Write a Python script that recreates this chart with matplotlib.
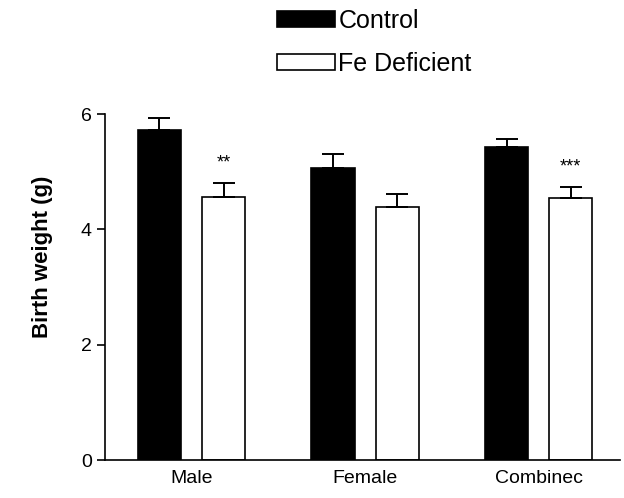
import numpy as np
import matplotlib.pyplot as plt

plt.rcParams['font.family'] = ['Liberation Sans', 'DejaVu Sans']

groups = ['Male', 'Female', 'Combinec']
control = [5.73, 5.07, 5.43]
control_sem = [0.20, 0.24, 0.14]
fe_def = [4.57, 4.38, 4.55]
fe_sem = [0.24, 0.24, 0.19]
stars = ['**', '', '***']

x = np.arange(len(groups))
w = 0.25
off = 0.185

fig = plt.figure(figsize=(6.24, 4.98), dpi=100)
ax = fig.add_axes([0.168, 0.076, 0.826, 0.695])

ax.bar(x - off, control, w, color='black', edgecolor='black', linewidth=1.2,
       yerr=[np.zeros(3), control_sem], capsize=8,
       error_kw=dict(elinewidth=1.4, capthick=1.4, ecolor='black'),
       label='Control')
ax.bar(x + off, fe_def, w, color='white', edgecolor='black', linewidth=1.2,
       yerr=[np.zeros(3), fe_sem], capsize=8,
       error_kw=dict(elinewidth=1.4, capthick=1.4, ecolor='black'),
       label='Fe Deficient')

for i, s in enumerate(stars):
    if s:
        ax.text(x[i] + off, fe_def[i] + fe_sem[i] + 0.2, s, ha='center',
                va='bottom', fontsize=13)

ax.set_ylim(0, 6)
ax.set_xlim(-0.5, 2.47)
ax.set_yticks([0, 2, 4, 6])
ax.set_xticks(x)
ax.set_xticklabels(groups, fontsize=14)
ax.tick_params(axis='x', length=0, pad=7)
ax.tick_params(axis='y', labelsize=14, length=6, width=1.2, direction='out')
ax.set_ylabel('Birth weight (g)', fontsize=16, fontweight='bold')
ax.yaxis.set_label_coords(-0.10, 0.587)
for side in ['top', 'right']:
    ax.spines[side].set_visible(False)
ax.spines['left'].set_linewidth(1.2)
ax.spines['bottom'].set_linewidth(1.2)

h, l = ax.get_legend_handles_labels()
fig.legend(h, l, loc='upper left', bbox_to_anchor=(0.42, 1.012), frameon=False,
           fontsize=18, handlelength=2.3, handleheight=0.6, labelspacing=0.75,
           handletextpad=0.15, borderaxespad=0.2)

fig.savefig('out.png', dpi=100)
